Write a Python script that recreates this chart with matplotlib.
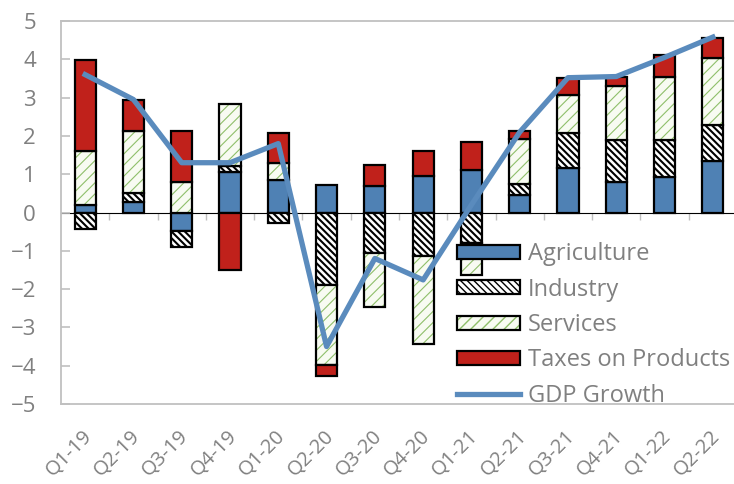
import numpy as np
import matplotlib
matplotlib.use("Agg")
import matplotlib.pyplot as plt
import matplotlib.transforms as mtransforms
from matplotlib.legend_handler import HandlerTuple
from matplotlib.lines import Line2D
from matplotlib.patches import Patch

quarters = ["Q1-19", "Q2-19", "Q3-19", "Q4-19", "Q1-20", "Q2-20", "Q3-20",
            "Q4-20", "Q1-21", "Q2-21", "Q3-21", "Q4-21", "Q1-22", "Q2-22"]
agriculture = [0.20, 0.27, -0.47, 1.07, 0.85, 0.72, 0.68, 0.95, 1.11, 0.46, 1.15, 0.80, 0.92, 1.34]
industry = [-0.42, 0.23, -0.42, 0.15, -0.27, -1.89, -1.07, -1.14, -0.80, 0.28, 0.93, 1.09, 0.97, 0.94]
services = [1.40, 1.64, 0.80, 1.60, 0.43, -2.09, -1.41, -2.29, -0.83, 1.17, 0.99, 1.41, 1.64, 1.75]
taxes = [2.37, 0.81, 1.33, -1.50, 0.79, -0.30, 0.56, 0.66, 0.74, 0.23, 0.43, 0.25, 0.58, 0.52]
gdp_growth = [3.6, 2.95, 1.3, 1.3, 1.8, -3.5, -1.2, -1.76, 0.2, 2.1, 3.52, 3.55, 4.05, 4.58]

plt.rcParams["font.family"] = ["Open Sans", "DejaVu Sans"]
grey = "#808080"
spine_grey = "#c0c0c0"
blue = "#4f81b4"
red = "#c0211b"
green = "#8fbf6a"
ind_hatch = "\\\\\\\\\\"
srv_hatch = "///"

fig = plt.figure(figsize=(7.34, 4.84), dpi=100)
ax = fig.add_axes([0.0831, 0.1653, 0.921, 0.7913])

x = np.arange(len(quarters))
width = 0.44
pos_base = np.zeros(len(x))
neg_base = np.zeros(len(x))


def bottoms(vals):
    vals = np.asarray(vals, dtype=float)
    b = np.where(vals >= 0, pos_base, neg_base)
    pos_base[:] += np.where(vals >= 0, vals, 0)
    neg_base[:] += np.where(vals < 0, vals, 0)
    return vals, b


v, b = bottoms(agriculture)
ax.bar(x, v, width, bottom=b, color=blue, edgecolor="black", linewidth=1.6, zorder=2)

v, b = bottoms(industry)
with plt.rc_context({"hatch.linewidth": 1.5}):
    ax.bar(x, v, width, bottom=b, color="white", edgecolor="black", linewidth=1.6,
           hatch=ind_hatch, zorder=2)

v, b = bottoms(services)
with plt.rc_context({"hatch.linewidth": 0.8}):
    ax.bar(x, v, width, bottom=b, color="#f8fbf2", edgecolor=green, linewidth=0,
           hatch=srv_hatch, zorder=2)
ax.bar(x, v, width, bottom=b, color="none", edgecolor="black", linewidth=1.6, zorder=2)

v, b = bottoms(taxes)
ax.bar(x, v, width, bottom=b, color=red, edgecolor="black", linewidth=1.6, zorder=2)

ax.plot(x, gdp_growth, color="#5a8bbd", linewidth=3.8, zorder=3)

ax.set_xlim(-0.5, len(x) - 0.5)
ax.set_ylim(-5, 5)
ax.set_yticks(range(-5, 6))
ax.set_xticks(x)
ax.set_xticklabels(quarters, rotation=45, ha="right", va="center", rotation_mode="anchor")
ax.tick_params(axis="x", length=0, pad=21, labelsize=14.5, labelcolor=grey)
ax.tick_params(axis="y", direction="in", length=6.5, width=1.2, color=spine_grey,
               pad=18, labelsize=16, labelcolor=grey)
shift = mtransforms.ScaledTranslation(4 / 100, 0, fig.dpi_scale_trans)
for lab in ax.get_xticklabels():
    lab.set_transform(lab.get_transform() + shift)
for s in ax.spines.values():
    s.set_color(spine_grey)
    s.set_linewidth(1.3)

# zero line with small category ticks
zero = ax.secondary_xaxis(0.5)
zero.set_xticks(x[:-1] + 0.5)
zero.set_xticklabels([])
zero.tick_params(direction="in", length=5, width=1.0, color=spine_grey)
zero.spines["bottom"].set_color(spine_grey)
zero.spines["bottom"].set_linewidth(1.3)

with plt.rc_context({"hatch.linewidth": 1.5}):
    h_ind = Patch(facecolor="white", edgecolor="black", linewidth=1.6, hatch=ind_hatch)
with plt.rc_context({"hatch.linewidth": 0.8}):
    h_srv_fill = Patch(facecolor="#f8fbf2", edgecolor=green, linewidth=0, hatch=srv_hatch)
h_srv_edge = Patch(facecolor="none", edgecolor="black", linewidth=1.6)
handles = [
    Patch(facecolor=blue, edgecolor="black", linewidth=1.6),
    h_ind,
    (h_srv_fill, h_srv_edge),
    Patch(facecolor=red, edgecolor="black", linewidth=1.6),
    Line2D([], [], color="#5a8bbd", linewidth=3.8),
]
labels = ["Agriculture", "Industry", "Services", "Taxes on Products", "GDP Growth"]
leg = ax.legend(handles, labels, loc="upper left", bbox_to_anchor=(0.586, 0.422),
                frameon=False, fontsize=17, labelcolor=grey, handlelength=2.65,
                handleheight=0.55, handletextpad=0.35, labelspacing=0.48, borderpad=0,
                borderaxespad=0, handler_map={tuple: HandlerTuple(ndivide=1, pad=0)})
leg.set_zorder(4)

fig.savefig("out.png", dpi=100)
